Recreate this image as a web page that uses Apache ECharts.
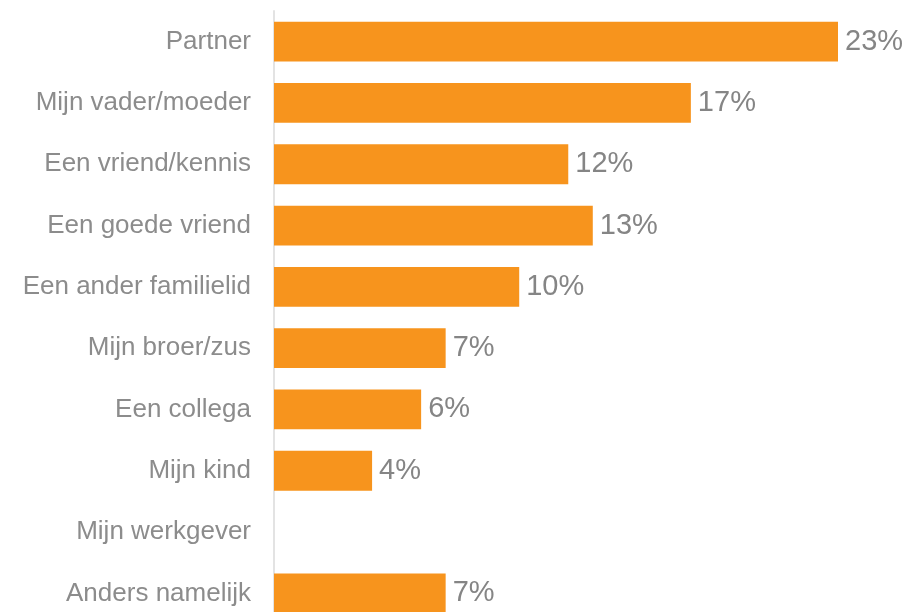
<!DOCTYPE html>
<html>
<head>
<meta charset="utf-8">
<script src="https://cdn.jsdelivr.net/npm/echarts@6/dist/echarts.min.js"></script>
<style>
  html, body { margin: 0; padding: 0; background: #fff; }
  #chart { width: 912px; height: 612px; }
</style>
</head>
<body>
<div id="chart"></div>
<script>
var categories = ['Partner', 'Mijn vader/moeder', 'Een vriend/kennis', 'Een goede vriend',
  'Een ander familielid', 'Mijn broer/zus', 'Een collega', 'Mijn kind', 'Mijn werkgever', 'Anders namelijk'];
var values = [23, 17, 12, 13, 10, 7, 6, 4, null, 7];

var chart = echarts.init(document.getElementById('chart'));

chart.setOption({
  animation: false,
  grid: {
    left: 274, right: 74, top: 11, height: 613,
    containLabel: false,
    outerBoundsMode: 'none'
  },
  xAxis: {
    type: 'value',
    min: 0,
    max: 23,
    show: false
  },
  yAxis: {
    type: 'category',
    inverse: true,
    data: categories,
    axisLine: { show: true, lineStyle: { color: '#e3e3e3', width: 2 } },
    axisTick: { show: false },
    axisLabel: {
      color: '#8c8c8c',
      fontFamily: "'Liberation Sans', Arial, sans-serif",
      fontSize: 26,
      margin: 23
    }
  },
  series: [{
    type: 'bar',
    data: values,
    barCategoryGap: '35%',
    itemStyle: { color: '#F7941D' },
    label: {
      show: true,
      position: 'right',
      distance: 7,
      formatter: '{c}%',
      color: '#858585',
      fontFamily: "'Liberation Sans', Arial, sans-serif",
      fontSize: 29
    }
  }]
});
</script>
</body>
</html>
